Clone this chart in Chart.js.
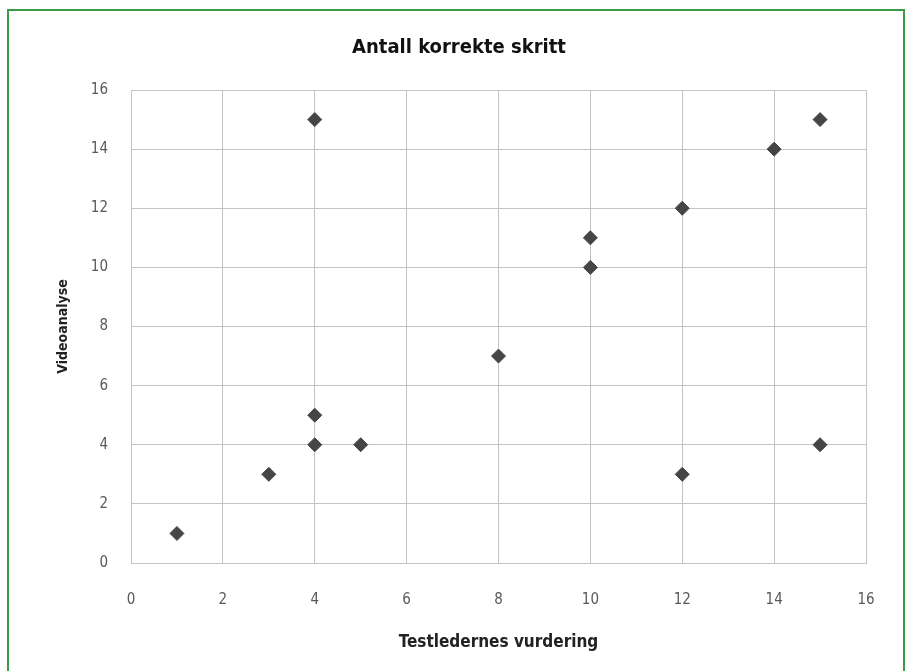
<!DOCTYPE html>
<html>
<head>
<meta charset="utf-8">
<script src="https://cdn.jsdelivr.net/npm/chart.js@4/dist/chart.umd.min.js"></script>
<style>
  html, body { margin: 0; padding: 0; background: #fff; }
  #wrap { position: relative; width: 909px; height: 671px; overflow: hidden; }
  #ramme { position: absolute; left: 7px; top: 9px; width: 898px; height: 700px; border: 2px solid #3c9a48; box-sizing: border-box; pointer-events: none; z-index: 2; }
  canvas { position: absolute; left: 0; top: 0; }
</style>
</head>
<body>
<div id="wrap">
  <canvas id="graf" width="909" height="671"></canvas>
  <div id="ramme"></div>
</div>
<script>
// Testledernes vurdering vs. videoanalyse
const testleder = [1, 3, 4, 4, 4, 5, 8, 10, 10, 12, 12, 14, 15, 15];
const video     = [1, 3, 15, 5, 4, 4, 7, 11, 10, 12, 3, 14, 15, 4];
const xTicks = [0, 2, 4, 6, 8, 10, 12, 14, 16];
const yTicks = [0, 2, 4, 6, 8, 10, 12, 14, 16];

const punkter = testleder.map((x, i) => ({ x: x, y: video[i] }));
const fontFam = "'Liberation Sans Narrow', 'DejaVu Sans Condensed', 'Open Sans', sans-serif";
const gridFarge = '#c4c4c4';

new Chart(document.getElementById('graf'), {
  type: 'scatter',
  data: {
    datasets: [{
      label: 'Antall korrekte skritt',
      data: punkter,
      pointStyle: 'rectRot',
      pointRadius: 7,
      pointHoverRadius: 7,
      backgroundColor: '#454545',
      borderColor: '#454545',
      borderWidth: 1
    }]
  },
  options: {
    responsive: false,
    animation: false,
    // venstre/høyre slik at tittelen havner midt i rammen
    layout: { padding: { left: 52, right: 43, top: 0, bottom: 0 } },
    plugins: {
      legend: { display: false },
      tooltip: { enabled: false },
      title: {
        display: true,
        text: 'Antall korrekte skritt',
        color: '#111',
        font: { family: fontFam, size: 20, weight: 'bold' },
        padding: { top: 36, bottom: 30 }
      }
    },
    scales: {
      x: {
        type: 'linear',
        min: 0, max: 16,
        afterBuildTicks: s => { s.ticks = xTicks.map(v => ({ value: v })); },
        afterFit: s => { s.height = 108; },
        grid: { color: gridFarge, lineWidth: 1, drawTicks: false },
        border: { color: gridFarge },
        ticks: { color: '#595959', padding: 28, font: { family: fontFam, size: 15 } },
        title: {
          display: true,
          text: 'Testledernes vurdering',
          color: '#222',
          font: { family: fontFam, size: 17, weight: 'bold' },
          padding: { top: 0, bottom: 18 }
        }
      },
      y: {
        type: 'linear',
        min: 0, max: 16,
        afterBuildTicks: s => { s.ticks = yTicks.map(v => ({ value: v })); },
        afterFit: s => { s.width = 79; },
        grid: { color: gridFarge, lineWidth: 1, drawTicks: false },
        border: { color: gridFarge },
        ticks: { color: '#595959', padding: 23, font: { family: fontFam, size: 15 } },
        title: {
          display: true,
          text: 'Videoanalyse',
          color: '#222',
          font: { family: fontFam, size: 14, weight: 'bold' },
          padding: { top: 3, bottom: 0 }
        }
      }
    }
  }
});
</script>
</body>
</html>
